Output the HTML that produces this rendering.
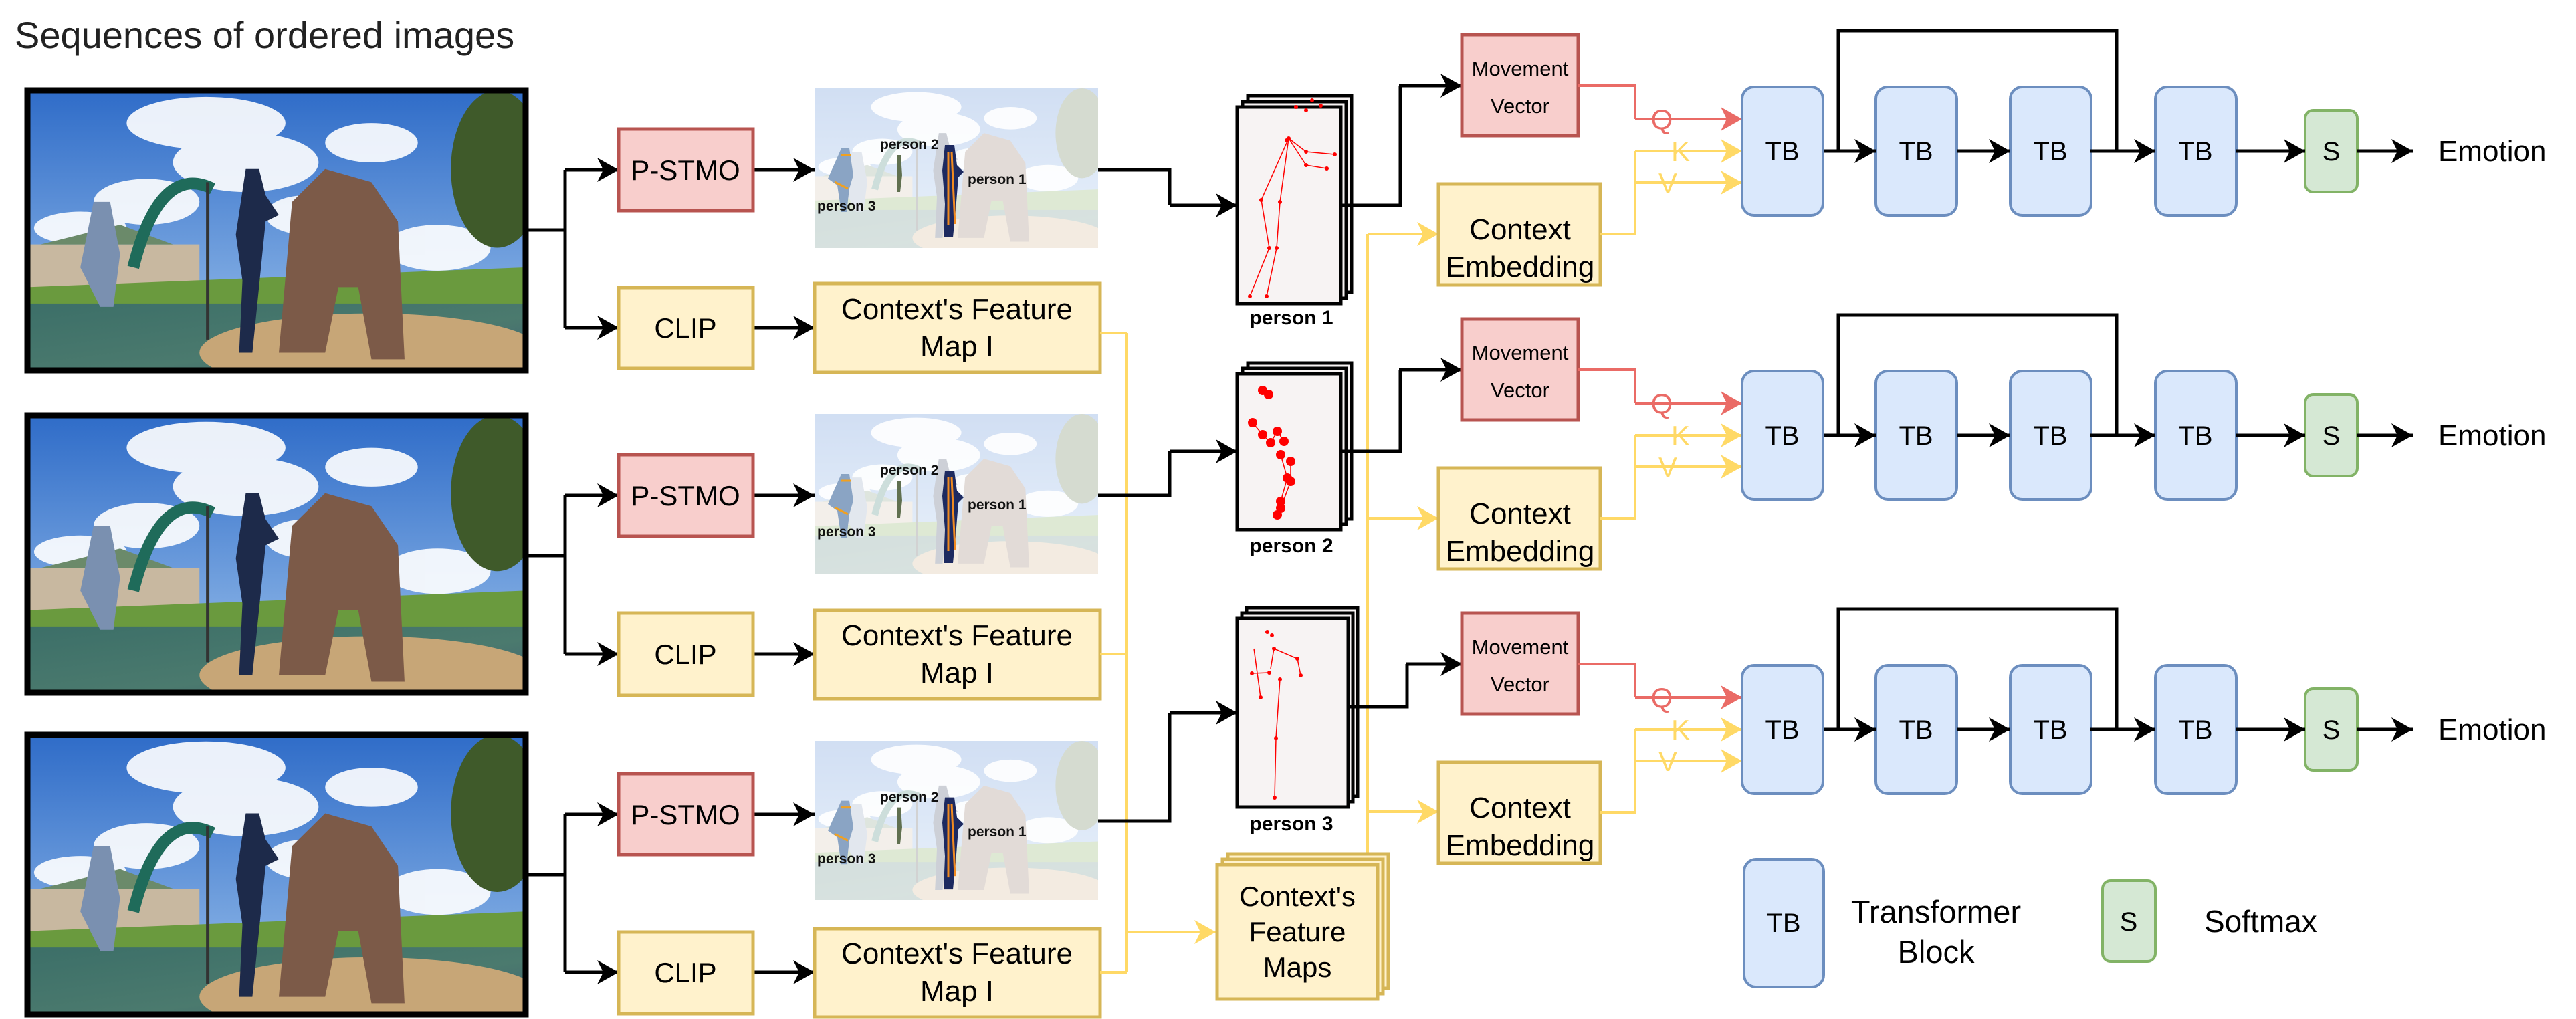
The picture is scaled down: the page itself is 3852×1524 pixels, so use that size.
<!DOCTYPE html>
<html><head><meta charset="utf-8"><style>
html,body{margin:0;padding:0;background:#fff;}
svg{display:block;}
text{font-family:"Liberation Sans",Arial,sans-serif;}
</style></head><body>
<svg width="3852" height="1524" viewBox="0 0 3852 1524" xmlns="http://www.w3.org/2000/svg">
<defs>
<marker id="ab" markerUnits="userSpaceOnUse" markerWidth="34" markerHeight="40" refX="32" refY="20" orient="auto"><path d="M0,2 L32,20 L0,38 L9,20 Z" fill="#000"/></marker>
<marker id="ar" markerUnits="userSpaceOnUse" markerWidth="34" markerHeight="40" refX="32" refY="20" orient="auto"><path d="M0,2 L32,20 L0,38 L9,20 Z" fill="#EA6B66"/></marker>
<marker id="ay" markerUnits="userSpaceOnUse" markerWidth="34" markerHeight="40" refX="32" refY="20" orient="auto"><path d="M0,2 L32,20 L0,38 L9,20 Z" fill="#FFD966"/></marker>
<linearGradient id="sky" x1="0" y1="0" x2="0" y2="1"><stop offset="0" stop-color="#2f6cc8"/><stop offset="1" stop-color="#9cc2ec"/></linearGradient>
<linearGradient id="gnd" x1="0" y1="0" x2="1" y2="1"><stop offset="0" stop-color="#3c6f68"/><stop offset="0.6" stop-color="#4b7a6e"/><stop offset="1" stop-color="#3f5f72"/></linearGradient>
<symbol id="photo" viewBox="0 0 753 427" preserveAspectRatio="none">
<rect width="753" height="427" fill="url(#sky)"/>
<g fill="#fff" opacity="0.9"><ellipse cx="270" cy="50" rx="120" ry="40"/><ellipse cx="330" cy="110" rx="110" ry="45"/><ellipse cx="180" cy="170" rx="80" ry="35"/><ellipse cx="520" cy="80" rx="70" ry="30"/><ellipse cx="620" cy="240" rx="80" ry="35"/><ellipse cx="80" cy="210" rx="70" ry="25"/><ellipse cx="420" cy="190" rx="60" ry="30"/></g>
<ellipse cx="710" cy="120" rx="70" ry="120" fill="#3f5a2a"/>
<rect x="0" y="235" width="260" height="70" fill="#c8b8a0"/><polygon points="20,235 140,205 220,235" fill="#6b8a6a"/>
<polygon points="0,300 753,270 753,330 0,340" fill="#6a9a3e"/>
<rect x="0" y="325" width="753" height="102" fill="url(#gnd)"/>
<ellipse cx="520" cy="400" rx="260" ry="60" fill="#c7a677"/>
<path d="M380,400 L400,170 L450,120 L520,140 L560,200 L570,410 L520,410 L500,300 L470,300 L450,400 Z" fill="#7c5a48"/>
<path d="M330,120 l20,0 l10,40 l20,30 l-20,10 l-10,100 l-10,100 l-20,0 l5,-110 l-10,-70 Z" fill="#1d2a4a"/>
<path d="M100,170 l25,0 l15,80 l-10,80 l-20,0 l-30,-60 Z" fill="#7a90b0"/>
<path d="M160,270 q40,-160 120,-120" stroke="#1f6b5a" stroke-width="18" fill="none"/>
<rect x="270" y="140" width="5" height="240" fill="#333"/>
</symbol>
<symbol id="pose" viewBox="0 0 424 239" preserveAspectRatio="none">
<use href="#photo" x="0" y="0" width="424" height="239"/>
<rect width="424" height="239" fill="#fff" opacity="0.78"/>
<path d="M195,85 l14,0 l4,30 l10,10 l-8,8 l-4,50 l-4,40 l-14,0 l2,-50 l-4,-50 Z" fill="#1d2a60"/>
<path d="M200,95 l0,110 M205,95 l5,108" stroke="#f08a20" stroke-width="3"/>
<path d="M40,90 l12,0 l6,40 l-6,20 l-4,35 l-8,0 l-6,-40 l-14,-10 Z" fill="#8aa4c4"/>
<path d="M40,100 l15,0 M30,140 l20,10" stroke="#f0a020" stroke-width="3"/>
<path d="M123,100 l6,0 l2,30 l-3,25 l-5,0 Z" fill="#607050"/>
</symbol>
</defs>

<text x="22" y="72" font-size="56" fill="#222">Sequences of ordered images</text>

<!-- images -->
<g>
<use href="#photo" x="41" y="135" width="745" height="419"/>
<rect x="41" y="135" width="745" height="419" fill="none" stroke="#000" stroke-width="9"/>
<use href="#photo" x="41" y="621" width="745" height="415"/>
<rect x="41" y="621" width="745" height="415" fill="none" stroke="#000" stroke-width="9"/>
<use href="#photo" x="41" y="1099" width="745" height="418"/>
<rect x="41" y="1099" width="745" height="418" fill="none" stroke="#000" stroke-width="9"/>
</g>

<!-- left branches -->
<g stroke="#000" stroke-width="5" fill="none">
<path d="M790,344 H845 M845,254 V490 M845,254 H925 M845,490 H925" />
<path d="M790,831 H845 M845,741 V978 M845,741 H925 M845,978 H925"/>
<path d="M790,1308 H845 M845,1218 V1454 M845,1218 H925 M845,1454 H925"/>
</g>
<g stroke="#000" stroke-width="5" marker-end="url(#ab)">
<line x1="845" y1="254" x2="925" y2="254"/><line x1="845" y1="490" x2="925" y2="490"/>
<line x1="845" y1="741" x2="925" y2="741"/><line x1="845" y1="978" x2="925" y2="978"/>
<line x1="845" y1="1218" x2="925" y2="1218"/><line x1="845" y1="1454" x2="925" y2="1454"/>
<line x1="1126" y1="254" x2="1218" y2="254"/><line x1="1126" y1="490" x2="1218" y2="490"/>
<line x1="1126" y1="741" x2="1218" y2="741"/><line x1="1126" y1="978" x2="1218" y2="978"/>
<line x1="1126" y1="1218" x2="1218" y2="1218"/><line x1="1126" y1="1454" x2="1218" y2="1454"/>
</g>

<!-- P-STMO / CLIP boxes -->
<g stroke-width="5">
<rect x="925" y="193" width="201" height="122" fill="#F8CECC" stroke="#B85450"/>
<rect x="925" y="680" width="201" height="122" fill="#F8CECC" stroke="#B85450"/>
<rect x="925" y="1157" width="201" height="121" fill="#F8CECC" stroke="#B85450"/>
<rect x="925" y="430" width="201" height="121" fill="#FFF2CC" stroke="#D6B656"/>
<rect x="925" y="917" width="201" height="123" fill="#FFF2CC" stroke="#D6B656"/>
<rect x="925" y="1394" width="201" height="122" fill="#FFF2CC" stroke="#D6B656"/>
<rect x="1218" y="424" width="427" height="133" fill="#FFF2CC" stroke="#D6B656"/>
<rect x="1218" y="913" width="427" height="132" fill="#FFF2CC" stroke="#D6B656"/>
<rect x="1218" y="1389" width="427" height="132" fill="#FFF2CC" stroke="#D6B656"/>
</g>
<g font-size="42" text-anchor="middle" fill="#000">
<text x="1025" y="269">P-STMO</text><text x="1025" y="756">P-STMO</text><text x="1025" y="1233">P-STMO</text>
<text x="1025" y="505">CLIP</text><text x="1025" y="993">CLIP</text><text x="1025" y="1469">CLIP</text>
</g>
<g font-size="44" text-anchor="middle" fill="#000">
<text x="1431" y="477">Context's Feature</text><text x="1431" y="533">Map I</text>
<text x="1431" y="965">Context's Feature</text><text x="1431" y="1021">Map I</text>
<text x="1431" y="1441">Context's Feature</text><text x="1431" y="1497">Map I</text>
</g>

<!-- pose images -->
<use href="#pose" x="1218" y="132" width="424" height="239"/>
<use href="#pose" x="1218" y="619" width="424" height="239"/>
<use href="#pose" x="1218" y="1108" width="424" height="238"/>
<g font-size="21" font-weight="bold" fill="#111">
<text x="1316" y="223">person 2</text><text x="1447" y="275">person 1</text><text x="1222" y="315">person 3</text>
<text x="1316" y="710">person 2</text><text x="1447" y="762">person 1</text><text x="1222" y="802">person 3</text>
<text x="1316" y="1199">person 2</text><text x="1447" y="1251">person 1</text><text x="1222" y="1291">person 3</text>
</g>

<!-- yellow context lines -->
<g stroke="#FFD966" stroke-width="4" fill="none">
<path d="M1645,498 H1685 M1645,978 H1685 M1645,1454 H1685 M1685,498 V1454"/>
<path d="M2045,350 V1277"/>
</g>
<g stroke="#FFD966" stroke-width="4" marker-end="url(#ay)">
<line x1="1685" y1="1394" x2="1818" y2="1394"/>
<line x1="2045" y1="350" x2="2151" y2="350"/>
<line x1="2045" y1="775" x2="2151" y2="775"/>
<line x1="2045" y1="1214" x2="2151" y2="1214"/>
</g>

<!-- pose to skeleton -->
<g stroke="#000" stroke-width="5" fill="none">
<path d="M1642,254 H1749 V307"/><path d="M1642,741 H1749 V675"/><path d="M1642,1228 H1749 V1066"/>
</g>
<g stroke="#000" stroke-width="5" marker-end="url(#ab)">
<line x1="1749" y1="307" x2="1850" y2="307"/><line x1="1749" y1="675" x2="1850" y2="675"/><line x1="1749" y1="1066" x2="1850" y2="1066"/>
</g>

<!-- skeleton stacks -->
<g fill="#F7F3F3" stroke="#000" stroke-width="5">
<rect x="1866" y="143" width="155" height="294"/><rect x="1858" y="152" width="155" height="294"/><rect x="1850" y="160" width="155" height="294"/>
<rect x="1866" y="543" width="155" height="233"/><rect x="1858" y="551" width="155" height="233"/><rect x="1850" y="559" width="155" height="233"/>
<rect x="1864" y="909" width="166" height="282"/><rect x="1857" y="917" width="166" height="282"/><rect x="1850" y="925" width="166" height="282"/>
</g>
<g stroke="#f00" stroke-width="1.5" fill="none">
<path d="M1927,207 L1886,299 L1898,371 L1869,443 M1927,207 L1914,302 L1909,371 L1894,443 M1927,207 L1953,227 L1996,231 M1927,207 L1953,247 L1984,252"/>
<path d="M1873,632 L1888,650 L1900,662 L1910,645 L1920,660 M1915,680 L1925,715 L1915,750 L1910,770 M1930,690 L1930,720 L1915,760"/>
<path d="M1885,1043 L1875,970 M1872,1007 L1898,1006 M1900,1000 L1905,970 L1940,985 L1945,1010 M1914,1016 L1908,1104 L1906,1193"/>
</g>
<g fill="#f00">
<circle cx="1927" cy="207" r="3"/><circle cx="1924" cy="210" r="3"/><circle cx="1953" cy="227" r="3"/><circle cx="1996" cy="231" r="3"/><circle cx="1953" cy="247" r="3"/><circle cx="1984" cy="252" r="3"/><circle cx="1886" cy="299" r="3"/><circle cx="1914" cy="302" r="3"/><circle cx="1898" cy="371" r="3"/><circle cx="1909" cy="371" r="3"/><circle cx="1869" cy="443" r="3"/><circle cx="1894" cy="443" r="3"/>
<circle cx="1938" cy="160" r="3"/><circle cx="1953" cy="165" r="3"/><circle cx="1962" cy="150" r="3"/><circle cx="1975" cy="158" r="3"/>
<circle cx="1888" cy="584" r="7"/><circle cx="1897" cy="590" r="7"/><circle cx="1873" cy="632" r="7"/><circle cx="1888" cy="650" r="7"/><circle cx="1900" cy="662" r="7"/><circle cx="1910" cy="645" r="7"/><circle cx="1920" cy="660" r="7"/><circle cx="1915" cy="680" r="7"/><circle cx="1930" cy="690" r="7"/><circle cx="1925" cy="715" r="7"/><circle cx="1930" cy="720" r="7"/><circle cx="1915" cy="750" r="7"/><circle cx="1915" cy="760" r="7"/><circle cx="1910" cy="770" r="7"/>
<circle cx="1885" cy="1043" r="3"/><circle cx="1872" cy="1007" r="3"/><circle cx="1898" cy="1006" r="3"/><circle cx="1905" cy="970" r="3"/><circle cx="1940" cy="985" r="3"/><circle cx="1945" cy="1010" r="3"/><circle cx="1914" cy="1016" r="3"/><circle cx="1908" cy="1104" r="3"/><circle cx="1906" cy="1193" r="3"/><circle cx="1895" cy="945" r="3"/><circle cx="1902" cy="950" r="3"/>
</g>
<g font-size="30" font-weight="bold" text-anchor="middle" fill="#000">
<text x="1931" y="485">person 1</text><text x="1931" y="826">person 2</text><text x="1931" y="1242">person 3</text>
</g>

<!-- Context's Feature Maps stack -->
<g fill="#FFF2CC" stroke="#D6B656" stroke-width="5">
<rect x="1836" y="1277" width="240" height="201"/><rect x="1828" y="1285" width="240" height="201"/><rect x="1820" y="1293" width="240" height="201"/>
</g>
<g font-size="42" text-anchor="middle" fill="#000">
<text x="1940" y="1355">Context's</text><text x="1940" y="1408">Feature</text><text x="1940" y="1461">Maps</text>
</g>

<!-- skeleton to MV -->
<g stroke="#000" stroke-width="5" fill="none">
<path d="M2005,307 H2094 V128"/><path d="M2005,675 H2094 V553"/><path d="M2016,1057 H2104 V993"/>
</g>
<g stroke="#000" stroke-width="5" marker-end="url(#ab)">
<line x1="2092" y1="128" x2="2186" y2="128"/><line x1="2092" y1="553" x2="2186" y2="553"/><line x1="2102" y1="993" x2="2186" y2="993"/>
</g>

<!-- right rows -->
<g id="row">
<rect x="2186" y="52" width="174" height="151" fill="#F8CECC" stroke="#B85450" stroke-width="5"/>
<rect x="2151" y="275" width="242" height="151" fill="#FFF2CC" stroke="#D6B656" stroke-width="5"/>
<path d="M2360,128 H2445 V178" stroke="#EA6B66" stroke-width="4" fill="none"/>
<line x1="2445" y1="178" x2="2605" y2="178" stroke="#EA6B66" stroke-width="4" marker-end="url(#ar)"/>
<path d="M2393,350 H2445 V226" stroke="#FFD966" stroke-width="4" fill="none"/>
<line x1="2445" y1="226" x2="2605" y2="226" stroke="#FFD966" stroke-width="4" marker-end="url(#ay)"/>
<line x1="2445" y1="273" x2="2605" y2="273" stroke="#FFD966" stroke-width="4" marker-end="url(#ay)"/>
<g fill="#DAE8FC" stroke="#6C8EBF" stroke-width="4">
<rect x="2605" y="130" width="121" height="192" rx="18"/><rect x="2805" y="130" width="121" height="192" rx="18"/><rect x="3006" y="130" width="121" height="192" rx="18"/><rect x="3223" y="130" width="121" height="192" rx="18"/>
</g>
<rect x="3447" y="165" width="78" height="122" rx="12" fill="#D5E8D4" stroke="#82B366" stroke-width="4"/>
<path d="M2749,226 V46 H3165 V226" stroke="#000" stroke-width="5" fill="none"/>
<g stroke="#000" stroke-width="5" marker-end="url(#ab)">
<line x1="2727" y1="226" x2="2805" y2="226"/><line x1="2926" y1="226" x2="3006" y2="226"/><line x1="3126" y1="226" x2="3223" y2="226"/><line x1="3344" y1="226" x2="3447" y2="226"/><line x1="3525" y1="226" x2="3608" y2="226"/>
</g>
<g font-size="40" text-anchor="middle" fill="#000">
<text x="2665" y="240">TB</text><text x="2865" y="240">TB</text><text x="3066" y="240">TB</text><text x="3283" y="240">TB</text><text x="3486" y="240">S</text>
</g>
<g font-size="44" text-anchor="middle" fill="#000">
<text x="2273" y="358">Context</text><text x="2273" y="414">Embedding</text>
</g>
<text x="3646" y="241" font-size="44" fill="#000">Emotion</text>
<g font-size="31" text-anchor="middle" fill="#000"><text x="2273" y="113">Movement</text><text x="2273" y="169">Vector</text></g>
<g font-size="42" text-anchor="middle"><text x="2485" y="193" fill="#EA6B66">Q</text><text x="2513" y="241" fill="#FFD966">K</text><text x="2494" y="288" fill="#FFD966">V</text></g>
</g>
<use href="#row" y="425"/>
<use href="#row" y="865"/>

<!-- legend -->
<rect x="2608" y="1285" width="119" height="191" rx="18" fill="#DAE8FC" stroke="#6C8EBF" stroke-width="4"/>
<text x="2667" y="1394" font-size="40" text-anchor="middle">TB</text>
<text x="2895" y="1380" font-size="47" text-anchor="middle">Transformer</text>
<text x="2895" y="1440" font-size="47" text-anchor="middle">Block</text>
<rect x="3144" y="1317" width="79" height="121" rx="12" fill="#D5E8D4" stroke="#82B366" stroke-width="4"/>
<text x="3183" y="1392" font-size="40" text-anchor="middle">S</text>
<text x="3296" y="1394" font-size="46">Softmax</text>
</svg>
</body></html>
